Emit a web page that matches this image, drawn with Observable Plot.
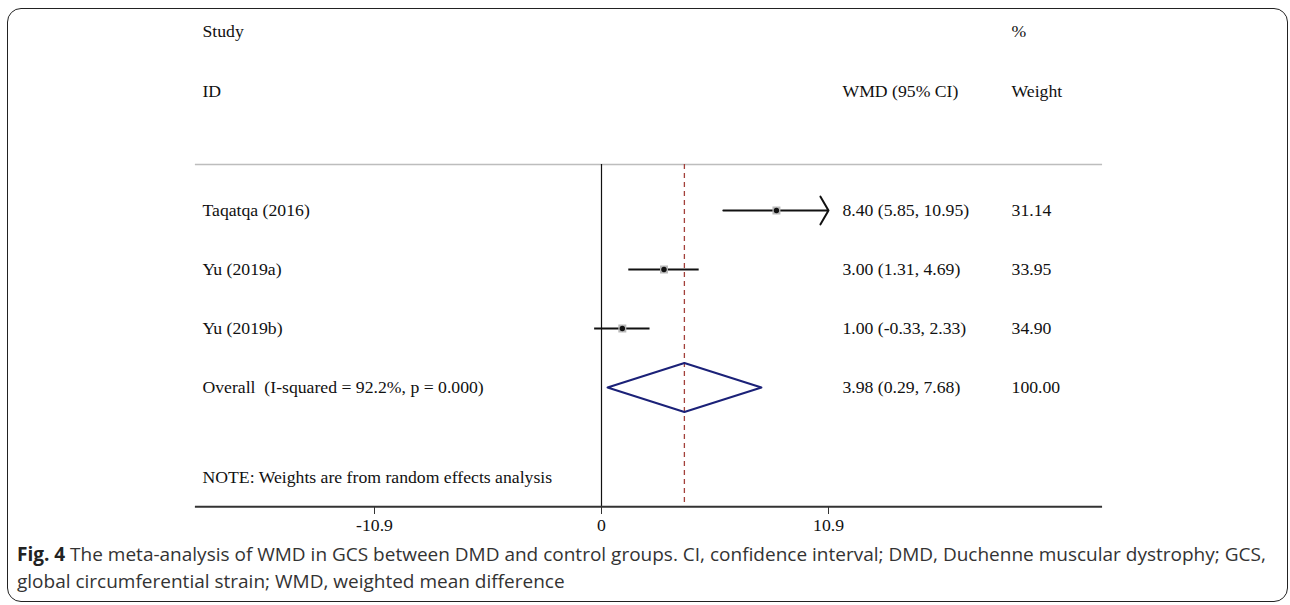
<!DOCTYPE html>
<html><head><meta charset="utf-8">
<script src="https://cdn.jsdelivr.net/npm/d3@7"></script>
<script src="https://cdn.jsdelivr.net/npm/@observablehq/plot@0.6"></script>
<style>
html,body{margin:0;padding:0;background:#fff;}
body{width:1290px;height:605px;position:relative;overflow:hidden;}
#frame{position:absolute;left:7px;top:8px;width:1281px;height:594px;border:1.6px solid #222;border-radius:14px;box-sizing:border-box;}
#chart{position:absolute;left:0;top:0;}
#caption{position:absolute;left:17px;top:541px;font-family:"Open Sans";font-size:19px;line-height:27px;color:#333;white-space:nowrap;}
#caption b{color:#222;}
</style></head><body>
<div id="frame"></div>
<div id="chart"></div>
<div id="caption"><b>Fig. 4</b> The meta-analysis of WMD in GCS between DMD and control groups. CI, confidence interval; DMD, Duchenne muscular dystrophy; GCS,<br>global circumferential strain; WMD, weighted mean difference</div>
<script>
// ---- data ----
const studies = ["Taqatqa (2016)", "Yu (2019a)", "Yu (2019b)"];
const estimates = [8.40, 3.00, 1.00];
const lowers = [5.85, 1.31, -0.33];
const uppers = [10.95, 4.69, 2.33];
const weights = ["31.14", "33.95", "34.90"];
const overallLabel = "Overall\u00a0\u00a0(I-squared = 92.2%, p = 0.000)";
const overallEst = 3.98, overallLo = 0.29, overallHi = 7.68;
const overallWeight = "100.00";
const axisTicks = [-10.9, 0, 10.9];
const noteText = "NOTE: Weights are from random effects analysis";

// ---- layout (data units of x scale, row units of y scale) ----
const xLim = 10.9;
const colStudy = -19.16, colWmd = 11.57, colWeight = 19.69;
const lineLeft = -19.5, lineRight = 24.06;
const rowStudyHdr = -2.03, rowIdHdr = -1.02, rowSep = 0.22, rowNote = 5.53, rowAxis = 6.02;
const diamondHalf = 0.415;

const fmt = v => v.toFixed(2);
const rows = studies.map((s, i) => ({
  study: s, row: i + 1, est: estimates[i], lo: lowers[i], hi: uppers[i],
  hiClip: Math.min(uppers[i], xLim), clipped: uppers[i] > xLim,
  label: `${fmt(estimates[i])} (${fmt(lowers[i])}, ${fmt(uppers[i])})`, weight: weights[i]
}));
const overallRow = studies.length + 1;
const diamond = [
  {x: overallLo, y: overallRow}, {x: overallEst, y: overallRow - diamondHalf},
  {x: overallHi, y: overallRow}, {x: overallEst, y: overallRow + diamondHalf},
  {x: overallLo, y: overallRow}
];
const textRows = [
  ...rows.map(r => ({row: r.row, a: r.study, b: r.label, c: r.weight})),
  {row: overallRow, a: overallLabel, b: `${fmt(overallEst)} (${fmt(overallLo)}, ${fmt(overallHi)})`, c: overallWeight}
];
const headers = [
  {x: colStudy, y: rowStudyHdr, t: "Study"}, {x: colWeight, y: rowStudyHdr, t: "%"},
  {x: colStudy, y: rowIdHdr, t: "ID"}, {x: colWmd, y: rowIdHdr, t: "WMD (95% CI)"}, {x: colWeight, y: rowIdHdr, t: "Weight"},
  {x: colStudy, y: rowNote, t: noteText}
];

const fs = 17.7;
const chart = Plot.plot({
  width: 1290, height: 540,
  marginTop: 0, marginLeft: 0, marginRight: 0, marginBottom: 34,
  style: {fontFamily: "'Liberation Serif', 'Times New Roman', serif", fontSize: fs + "px", color: "#111", background: "transparent"},
  x: {domain: [-xLim, xLim], range: [374, 828]},
  y: {domain: [1, 4], range: [210, 387], axis: null},
  marks: [
    Plot.ruleY([rowSep], {x1: lineLeft, x2: lineRight, stroke: "#bdbdbd", strokeWidth: 1.5}),
    Plot.ruleX([0], {y1: rowSep, y2: rowAxis, stroke: "#111", strokeWidth: 1.2}),
    Plot.ruleX([overallEst], {y1: rowSep, y2: rowAxis, stroke: "#a3403a", strokeWidth: 1.3, strokeDasharray: "5,4"}),
    Plot.ruleY(rows.filter(d => !d.clipped), {x1: "lo", x2: "hiClip", y: "row", stroke: "#111", strokeWidth: 2}),
    Plot.arrow(rows.filter(d => d.clipped), {x1: "lo", x2: "hiClip", y1: "row", y2: "row", stroke: "#111", strokeWidth: 2, headAngle: 120, headLength: 12}),
    Plot.dot(rows, {x: "est", y: "row", symbol: "square", r: 4.5, fill: "#b8b8b8", stroke: null}),
    Plot.dot(rows, {x: "est", y: "row", r: 2.7, fill: "#111", stroke: null}),
    Plot.line(diamond, {x: "x", y: "y", stroke: "#1b2178", strokeWidth: 2, curve: "linear"}),
    Plot.ruleY([rowAxis], {x1: lineLeft, x2: lineRight, stroke: "#333", strokeWidth: 2}),
    Plot.axisX({ticks: axisTicks, tickFormat: d => String(d), tickSize: 8, tickPadding: 4, fontSize: fs, stroke: "#333"}),
    Plot.text(textRows, {x: colStudy, y: "row", text: "a", textAnchor: "start", fontSize: fs, fill: "#111"}),
    Plot.text(textRows, {x: colWmd, y: "row", text: "b", textAnchor: "start", fontSize: fs, fill: "#111"}),
    Plot.text(textRows, {x: colWeight, y: "row", text: "c", textAnchor: "start", fontSize: fs, fill: "#111"}),
    Plot.text(headers, {x: "x", y: "y", text: "t", textAnchor: "start", fontSize: fs, fill: "#111"})
  ]
});
document.getElementById("chart").appendChild(chart);
</script>
</body></html>
